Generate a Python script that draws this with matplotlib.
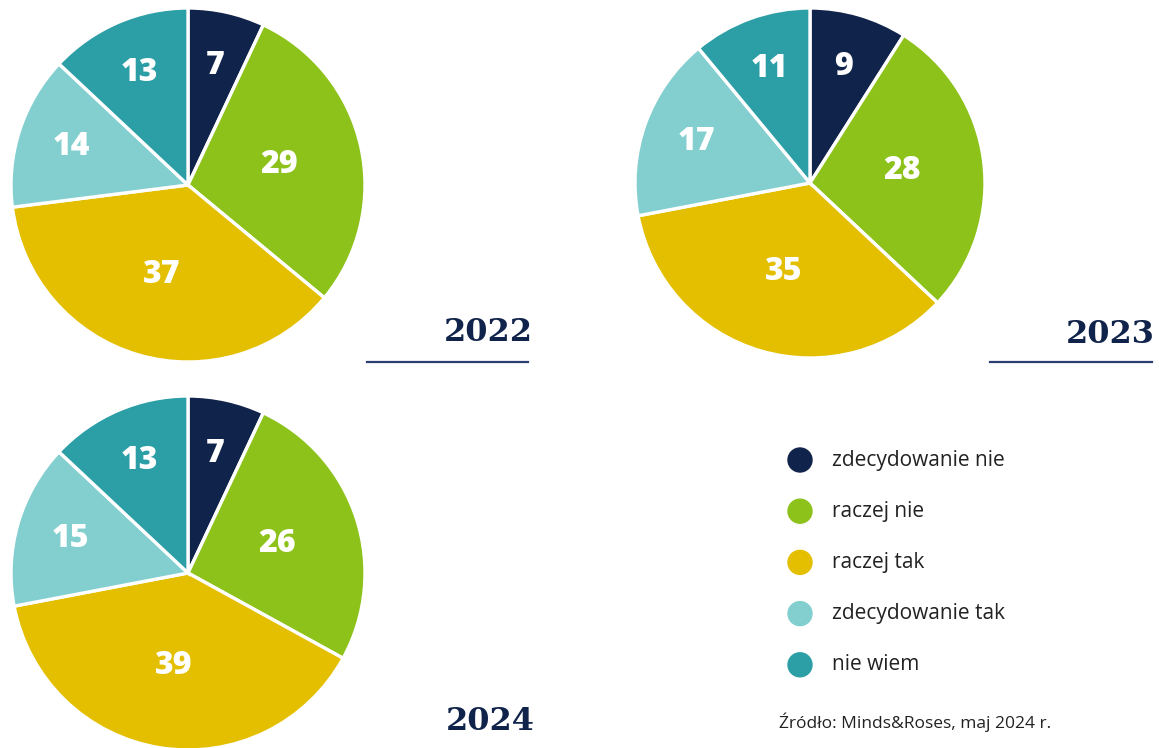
import matplotlib.pyplot as plt
import numpy as np

# dane
categories = ["zdecydowanie nie", "raczej nie", "raczej tak", "zdecydowanie tak", "nie wiem"]
years = ["2022", "2023", "2024"]
values_2022 = [7, 29, 37, 14, 13]
values_2023 = [9, 28, 35, 17, 11]
values_2024 = [7, 26, 39, 15, 13]
source_text = "Źródło: Minds&Roses, maj 2024 r."

colors = ["#10234a", "#8dc21a", "#e4bf00", "#83cfcf", "#2b9ea6"]
navy = "#10234a"

W, H = 1159, 748


def main():
    fig = plt.figure(figsize=(W / 100, H / 100), dpi=100)
    ax = fig.add_axes([0, 0, 1, 1])

    # (środek x, środek y, promień) w pikselach obrazu
    pies = [
        (values_2022, 188, 185, 177),
        (values_2023, 810, 183, 175),
        (values_2024, 188, 573, 177),
    ]

    for vals, cx, cy, r in pies:
        wedges, _ = ax.pie(
            vals, colors=colors, startangle=90, counterclock=False,
            center=(cx, H - cy), radius=r, frame=True,
            wedgeprops=dict(edgecolor="white", linewidth=2.4),
        )
        for w, v in zip(wedges, vals):
            ang = np.deg2rad((w.theta1 + w.theta2) / 2)
            d = 0.69 if v < 20 else 0.53
            ax.text(cx + d * r * np.cos(ang), H - cy + d * r * np.sin(ang), str(v),
                    ha="center", va="center", color="white", fontsize=23,
                    fontweight="heavy", family="Open Sans")

    # podpisy lat
    year_pos = [(533, 332), (1155, 334), (535, 722)]
    for yr, (x, y) in zip(years, year_pos):
        ax.text(x, H - y, yr, ha="right", va="center", fontsize=23,
                fontweight="bold", family="DejaVu Serif", color=navy)
    ax.plot([367, 528], [H - 362, H - 362], color="#2c3f73", lw=1.6)
    ax.plot([990, 1152], [H - 362, H - 362], color="#2c3f73", lw=1.6)

    # legenda
    for i, (cat, col) in enumerate(zip(categories, colors)):
        y = 460 + i * 51.2
        ax.add_patch(plt.Circle((800, H - y), 12, color=col))
        ax.text(832, H - y, cat, ha="left", va="center", fontsize=15,
                family="Open Sans", color="#222222")
    ax.text(779, H - 722, source_text, ha="left", va="center", fontsize=12.5,
            family="Open Sans", color="#222222")

    ax.set_xlim(0, W)
    ax.set_ylim(0, H)
    ax.set_aspect("equal")
    ax.axis("off")

    fig.savefig("out.png", dpi=100, facecolor="white")


if __name__ == "__main__":
    main()
